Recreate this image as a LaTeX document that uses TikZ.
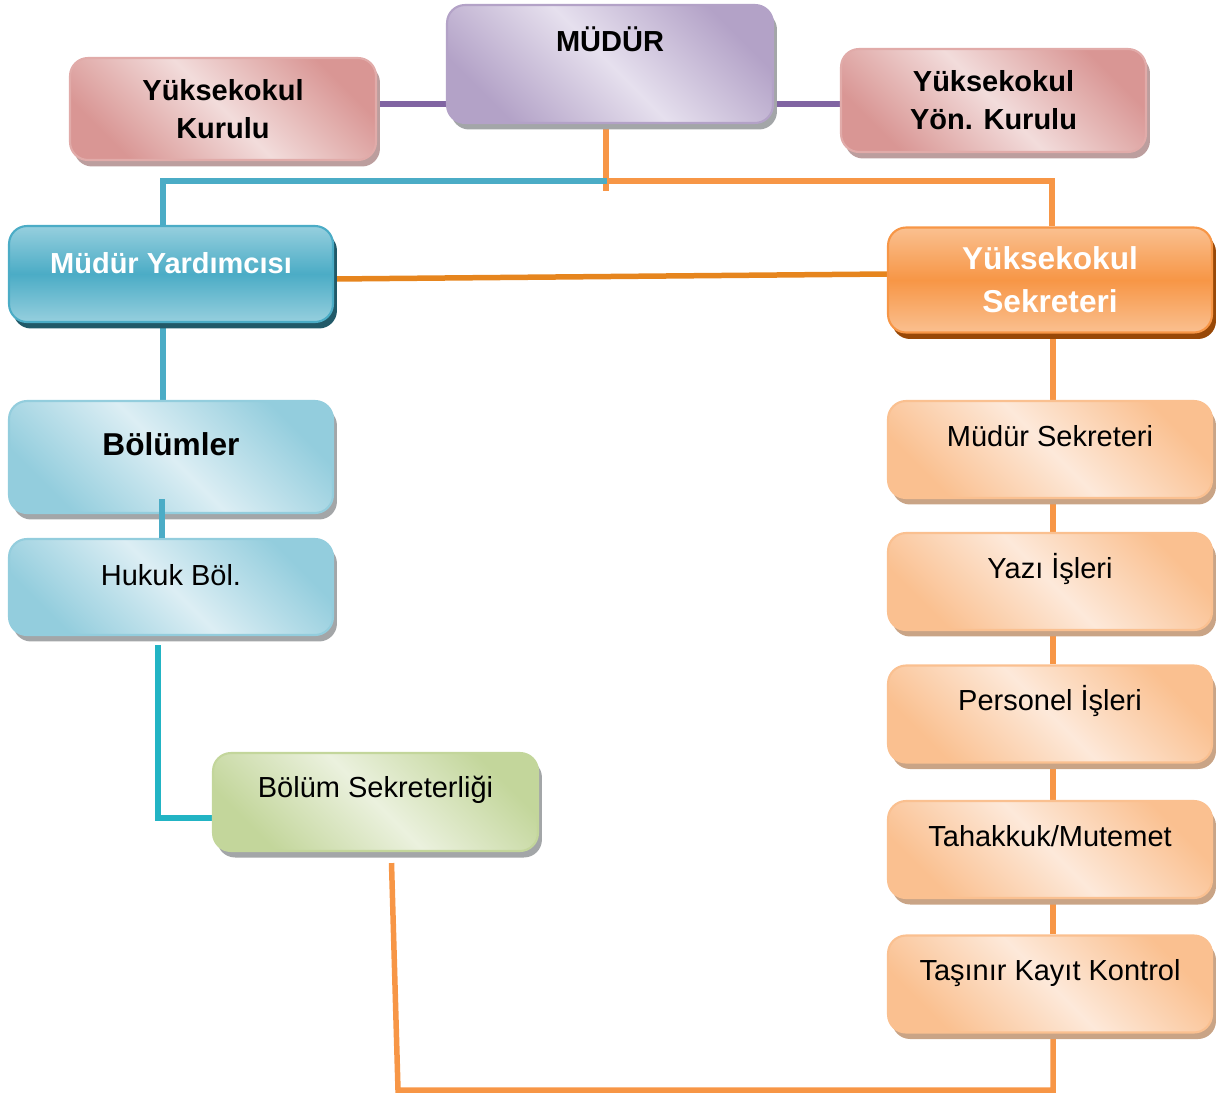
\documentclass[tikz,border=0pt]{standalone}
\usepackage{fontspec}
\setmainfont{Liberation Sans}
\usetikzlibrary{shadows,backgrounds}

\definecolor{morCizgi}{HTML}{8064A2}
\definecolor{morKoyu}{HTML}{B3A2C7}
\definecolor{morAcik}{HTML}{E6E0EE}
\definecolor{pembeKoyu}{HTML}{D99694}
\definecolor{pembeAcik}{HTML}{F2DCDB}
\definecolor{pembeGolge}{HTML}{BC9E9E}
\definecolor{maviCizgi}{HTML}{4BACC6}
\definecolor{maviOrta}{HTML}{4BACC6}
\definecolor{maviUst}{HTML}{96CFDE}
\definecolor{maviGolge}{HTML}{215968}
\definecolor{buzKoyu}{HTML}{93CDDD}
\definecolor{buzAcik}{HTML}{DCEEF4}
\definecolor{turuncuCizgi}{HTML}{F79646}
\definecolor{turuncuKoyu}{HTML}{E6851E}
\definecolor{turuncuUst}{HTML}{FAC090}
\definecolor{turuncuGolge}{HTML}{984807}
\definecolor{seftaliKoyu}{HTML}{FAC090}
\definecolor{seftaliAcik}{HTML}{FDE9DA}
\definecolor{seftaliGolge}{HTML}{C9A486}
\definecolor{yesilKoyu}{HTML}{C3D69B}
\definecolor{yesilAcik}{HTML}{EBF1DE}
\definecolor{griGolge}{HTML}{A3A6A8}
\definecolor{camgobegi}{HTML}{22B4C4}

\tikzset{
  yazi/.style={font=\fontsize{16.5}{21.5}\selectfont},
  kalin/.style={font=\fontsize{16.5}{21.5}\selectfont\bfseries},
  kutu/.style={rounded corners=0.36cm, line width=1.2pt, minimum width=6.48cm},
  golge/.style={drop shadow={shadow xshift=0.08cm, shadow yshift=-0.13cm, fill=#1, opacity=1}},
  capraz/.style 2 args={top color=#1, bottom color=#1, middle color=#2, shading angle=-45},
  bant/.style 2 args={top color=#1, bottom color=#1, middle color=#2},
  tek/.style 2 args={inner ysep=0pt, text height=#1, text depth=#2},
  mudurkutu/.style={kutu, capraz={morKoyu}{morAcik}, draw=morKoyu, golge=griGolge, kalin},
  kurulkutu/.style={kutu, capraz={pembeKoyu}{pembeAcik}, draw=pembeKoyu!80, golge=pembeGolge, kalin, align=center},
  yardkutu/.style={kutu, bant={maviUst}{maviOrta}, draw=maviOrta, golge=maviGolge, kalin, text=white},
  bolumkutu/.style={kutu, capraz={buzKoyu}{buzAcik}, draw=buzKoyu, golge=griGolge, yazi},
  sekkutu/.style={kutu, bant={turuncuUst}{turuncuCizgi}, draw=turuncuCizgi, golge=turuncuGolge, text=white, align=center,
    font=\fontsize{18}{24.4}\selectfont\bfseries},
  birimkutu/.style={kutu, capraz={seftaliKoyu}{seftaliAcik}, draw=seftaliKoyu, golge=seftaliGolge, yazi, tek={0.9cm}{1.04cm}},
  yesilkutu/.style={kutu, capraz={yesilKoyu}{yesilAcik}, draw=yesilKoyu, golge=griGolge, yazi},
  hat/.style={line width=0.11cm},
  mor/.style={hat, line width=0.13cm, morCizgi},
  mavi/.style={hat, maviCizgi},
  turuncu/.style={hat, turuncuCizgi},
}

\begin{document}
\begin{tikzpicture}[x=0.02cm,y=-0.02cm]
\useasboundingbox (0,0) rectangle (1216,1095);

% ust kademe
\node[mudurkutu, minimum width=6.52cm, tek={0.92cm}{1.44cm}] (mudur) at (610,64) {MÜDÜR};
\node[kurulkutu, minimum width=6.12cm, minimum height=2.04cm] (kurul) at (223,109) {Yüksekokul\\Kurulu};
\node[kurulkutu, minimum width=6.1cm, minimum height=2.06cm] (yonkurul) at (993.5,100.5) {Yüksekokul\\Yön. Kurulu};

% ikinci kademe
\node[yardkutu, tek={0.94cm}{0.98cm}] (yard) at (171,274) {Müdür Yardımcısı};
\node[sekkutu, minimum height=2.1cm] (sekreter) at (1050,280) {Yüksekokul\\Sekreteri};

% sol kol
\node[bolumkutu, tek={1.08cm}{1.16cm}, font=\fontsize{18}{22}\selectfont\bfseries] (bolumler) at (171,457) {Bölümler};
\node[bolumkutu, tek={0.92cm}{1.0cm}] (hukuk) at (171,587) {Hukuk Böl.};
\node[yesilkutu, minimum width=6.5cm, tek={0.88cm}{1.08cm}] (bsek) at (375.5,802) {Bölüm Sekreterliği};

% sag kol
\node[birimkutu] (msek) at (1050,449.5) {Müdür Sekreteri};
\node[birimkutu] (yazi) at (1050,581.5) {Yazı İşleri};
\node[birimkutu] (personel) at (1050,714) {Personel İşleri};
\node[birimkutu] (tahakkuk) at (1050,849.5) {Tahakkuk/Mutemet};
\node[birimkutu] (tasinir) at (1050,984) {Taşınır Kayıt Kontrol};

\coordinate (kavsak) at (607,181);
\coordinate (alt) at (398,1090);

\begin{scope}[on background layer]
\draw[mor] ([yshift=0.1cm]kurul.east) -- ([yshift=0.1cm]kurul.east -| mudur.west);
\draw[mor] ([yshift=-0.07cm]mudur.east |- yonkurul.west) -- ([yshift=-0.07cm]yonkurul.west);
\draw[turuncu] ([xshift=-0.08cm]mudur.south) -- ++(0,67);
\draw[mavi] ([xshift=-0.16cm]yard.north) |- (kavsak);
\draw[turuncu] (kavsak) -| ([xshift=0.04cm]sekreter.north);
\draw[hat, turuncuKoyu] ([yshift=-0.1cm]yard.east) -- ([yshift=0.12cm]sekreter.west);
\draw[mavi] ([xshift=-0.16cm]yard.south) -- ([xshift=-0.16cm]bolumler.north);
\draw[hat, camgobegi] ([xshift=-0.26cm,yshift=-0.18cm]hukuk.south) |- ([yshift=-0.32cm]bsek.west);
\draw[turuncu] ([xshift=0.32cm,yshift=-0.22cm]bsek.south) -- (alt) -| ([xshift=0.06cm]tasinir.south);
\foreach \ust/\alt in {sekreter/msek, msek/yazi, yazi/personel, personel/tahakkuk, tahakkuk/tasinir}
  \draw[turuncu] ([xshift=0.06cm]\ust.south) -- ([xshift=0.06cm]\alt.north);
\end{scope}
\draw[mavi] ([xshift=-0.18cm,yshift=0.3cm]bolumler.south) -- ([xshift=-0.18cm]hukuk.north);
\end{tikzpicture}
\end{document}
